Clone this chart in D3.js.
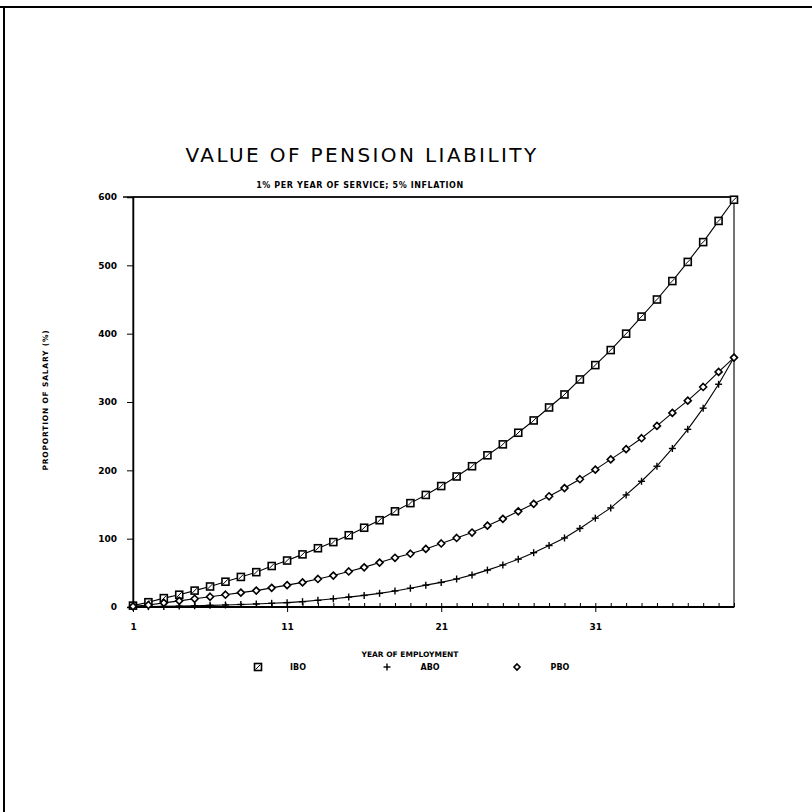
<!DOCTYPE html>
<html>
<head>
<meta charset="utf-8">
<script src="https://cdn.jsdelivr.net/npm/d3@7"></script>
<style>
  html, body { margin: 0; padding: 0; background: #fff; }
  svg { display: block; }
  text { font-family: "DejaVu Sans", "Liberation Sans", sans-serif; fill: #000; }
</style>
</head>
<body>
<svg id="chart" width="812" height="812"></svg>
<script>
// ---- data ----
const years = d3.range(1, 41);
const ibo = [2,7,13,18,24,30,37,44,51,60,68,77,86,95,105,116,127,140,152,164,177,191,206,222,238,255,273,292,311,333,354,376,400,425,450,477,505,534,565,596];
const abo = [0.2,0.5,0.9,1.3,1.8,2.4,3,3.7,4.5,5.4,6.4,7.8,9.8,12,14.5,17,20,23.5,27.5,32,36,41,47,54,61.5,70,79.5,90,101,115,130,145,164,184,206,232,260,291,326,365];
const pbo = [1,3,6,9,12,15,18,21,24,28,32,36,41,46,52,58,65,72,78,85,93,101,109,119,129,140,151,162,174,187,201,216,231,247,265,284,302,322,344,365];
const xTickValues = [1, 11, 21, 31];
const yTickValues = [0, 100, 200, 300, 400, 500, 600];
const seriesNames = ["IBO", "ABO", "PBO"];
const titleText = "VALUE OF PENSION LIABILITY";
const subtitleText = "1% PER YEAR OF SERVICE; 5% INFLATION";
const xLabel = "YEAR OF EMPLOYMENT";
const yLabel = "PROPORTION OF SALARY (%)";

// ---- layout ----
const svg = d3.select("#chart");
const L = 133, R = 734, T = 197, B = 607;
const x = d3.scaleLinear().domain([1, 40]).range([L, R]);
const y = d3.scaleLinear().domain([0, 600]).range([B, T]);

// page frame (scan border)
svg.append("line").attr("x1", 0).attr("x2", 812).attr("y1", 7).attr("y2", 7).attr("stroke", "#000").attr("stroke-width", 2);
svg.append("line").attr("x1", 4).attr("x2", 4).attr("y1", 7).attr("y2", 812).attr("stroke", "#000").attr("stroke-width", 2);

// titles
svg.append("text").attr("x", 362).attr("y", 162).attr("text-anchor", "middle")
  .style("font-size", "20px").style("letter-spacing", "2.4px").text(titleText);
svg.append("text").attr("x", 360).attr("y", 188).attr("text-anchor", "middle")
  .style("font-size", "8px").style("font-weight", "bold").style("letter-spacing", "0.6px").text(subtitleText);

// plot box
svg.append("rect").attr("x", L).attr("y", T).attr("width", R - L).attr("height", B - T)
  .attr("fill", "none").attr("stroke", "#000").attr("stroke-width", 1.1);
svg.append("line").attr("x1", L).attr("x2", R).attr("y1", B).attr("y2", B).attr("stroke", "#000").attr("stroke-width", 2);
svg.append("line").attr("x1", L - 10).attr("x2", R).attr("y1", T).attr("y2", T).attr("stroke", "#000").attr("stroke-width", 1.6);

// y axis
const yAxis = d3.axisLeft(y).tickValues(yTickValues).tickSize(6).tickPadding(10).tickFormat(d3.format("d"));
const gy = svg.append("g").attr("transform", `translate(${L},0)`).call(yAxis);
gy.select(".domain").attr("stroke-width", 1.5);
gy.selectAll("text").style("font-size", "9px").style("font-weight", "bold").style("font-family", "DejaVu Sans, sans-serif");

// x axis: minor ticks inward, majors outward
const xMinor = d3.axisTop(x).tickValues(years).tickSize(4).tickFormat("");
const gxm = svg.append("g").attr("transform", `translate(0,${B})`).call(xMinor);
gxm.select(".domain").remove();
const xMajor = d3.axisBottom(x).tickValues(xTickValues).tickSize(5).tickPadding(12).tickFormat(d3.format("d"));
const gx = svg.append("g").attr("transform", `translate(0,${B})`).call(xMajor);
gx.select(".domain").remove();
gx.selectAll("text").style("font-size", "9px").style("font-weight", "bold").style("font-family", "DejaVu Sans, sans-serif");

// axis labels
svg.append("text").attr("x", 410).attr("y", 657).attr("text-anchor", "middle")
  .style("font-size", "7.5px").style("font-weight", "bold").text(xLabel);
svg.append("text").attr("transform", "translate(48,400) rotate(-90)").attr("text-anchor", "middle")
  .style("font-size", "7.5px").style("font-weight", "bold").style("letter-spacing", "0.8px").text(yLabel);

// lines
const line = d3.line().x((d, i) => x(years[i])).y(d => y(d));
[ibo, abo, pbo].forEach(s => {
  svg.append("path").datum(s).attr("d", line).attr("fill", "none").attr("stroke", "#000").attr("stroke-width", 1.1);
});

// markers
function square(g, cx, cy, s) {
  g.append("rect").attr("x", cx - s / 2).attr("y", cy - s / 2).attr("width", s).attr("height", s)
    .attr("fill", "#fff").attr("stroke", "#000").attr("stroke-width", 1.6);
  g.append("line").attr("x1", cx - s / 2 + 1).attr("y1", cy + s / 2 - 1).attr("x2", cx + s / 2 - 1).attr("y2", cy - s / 2 + 1)
    .attr("stroke", "#000").attr("stroke-width", 1);
}
function plus(g, cx, cy, s) {
  g.append("line").attr("x1", cx - s / 2).attr("x2", cx + s / 2).attr("y1", cy).attr("y2", cy).attr("stroke", "#000").attr("stroke-width", 1.4);
  g.append("line").attr("x1", cx).attr("x2", cx).attr("y1", cy - s / 2).attr("y2", cy + s / 2).attr("stroke", "#000").attr("stroke-width", 1.4);
}
function diamond(g, cx, cy, s) {
  g.append("path").attr("d", `M${cx},${cy - s / 2}L${cx + s / 2},${cy}L${cx},${cy + s / 2}L${cx - s / 2},${cy}Z`)
    .attr("fill", "#fff").attr("stroke", "#000").attr("stroke-width", 1.6);
}
const mg = svg.append("g");
years.forEach((yr, i) => {
  square(mg, x(yr), y(ibo[i]), 7);
  plus(mg, x(yr), y(abo[i]), 7);
  diamond(mg, x(yr), y(pbo[i]), 7);
});

// legend
const lg = svg.append("g");
const legY = 670;
square(lg, 258, legY - 3, 7);
plus(lg, 387, legY - 3, 7);
diamond(lg, 517, legY - 3, 6);
[[298, seriesNames[0]], [430, seriesNames[1]], [560, seriesNames[2]]].forEach(([lx, t]) => {
  lg.append("text").attr("x", lx).attr("y", legY).attr("text-anchor", "middle")
    .style("font-size", "8px").style("font-weight", "bold").text(t);
});
</script>
</body>
</html>
